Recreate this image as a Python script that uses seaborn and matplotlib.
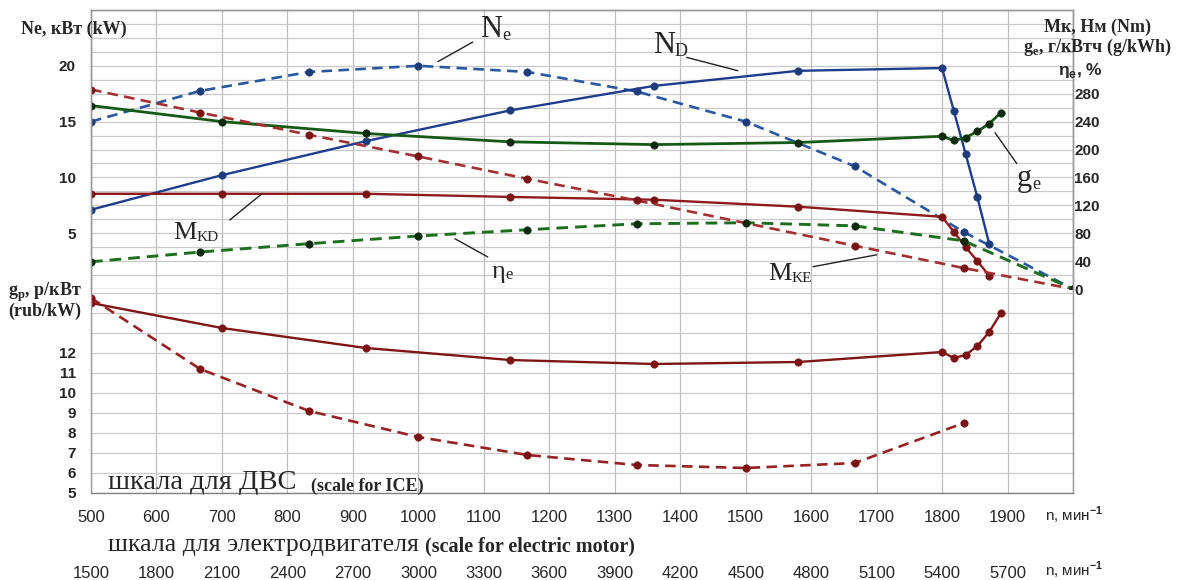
import numpy as np
import pandas as pd
import seaborn as sns
import matplotlib.pyplot as plt

# Data #########################################################################

# ICE speed points, n, min^-1 (solid curves)
n_ice = [500, 700, 920, 1140, 1360, 1580, 1800, 1818, 1836, 1854, 1872, 1890]
# electric motor speed points (motor scale is 3x the ICE scale), dashed curves
n_motor = [1500, 2000, 2500, 3000, 3500, 4000, 4500, 5000, 5500, 6000]
n_motor_mke = [1500, 2000, 2500, 3000, 3500, 4000, 5000, 5500, 6000]
n_motor_gp = [1500, 2000, 2500, 3000, 3500, 4000, 4500, 5000, 5500]

# upper panel, left scale (kW)
nd_kw = [7.1, 10.2, 13.25, 16.0, 18.2, 19.55, 19.8, 15.95, 12.1, 8.2, 4.05]
ne_kw = [15.0, 17.75, 19.45, 20.0, 19.45, 17.7, 15.0, 11.0, 5.1, 0.0]

# upper panel, right scale (Nm, g/kWh, %)
ge_gkwh = [263, 240, 223, 211, 207, 210, 219, 213, 217, 226, 237, 253]
mkd_nm = [136.5, 136.5, 136.5, 132, 128, 118, 103.5, 82, 60, 40, 19]
mke_nm = [286, 253, 221, 190, 158, 127, 62, 30, 0]
eta_pct = [39, 53, 65, 76, 85, 93.5, 95, 90.5, 69, 0]

# lower panel, rub/kW
gp_ice = [14.5, 13.25, 12.25, 11.65, 11.45, 11.55, 12.05, 11.75, 11.9, 12.35, 13.05, 14.0]
gp_motor = [14.75, 11.2, 9.1, 7.8, 6.9, 6.4, 6.25, 6.5, 8.5]

ice_ticks = list(range(500, 2000, 100))
motor_ticks = list(range(1500, 5800, 300))
right_ticks = list(range(0, 281, 40))
left_ticks = [5, 10, 15, 20]
gp_ticks = list(range(5, 13))

# Style ########################################################################

sns.set_style('white')
plt.rcParams['font.family'] = ['Liberation Sans', 'DejaVu Sans']
plt.rcParams['mathtext.fontset'] = 'custom'
plt.rcParams['mathtext.rm'] = 'Liberation Serif'
plt.rcParams['mathtext.bf'] = 'Liberation Serif:bold'
plt.rcParams['mathtext.sf'] = 'Liberation Sans:bold'

SERIF = 'Liberation Serif'
GRID = '#c9c9c9'
FRAME = '#9a9a9a'

W, H = 1179, 580
fig = plt.figure(figsize=(W / 100, H / 100), dpi=100)
x0, x1 = 91 / W, 1073 / W
ax = fig.add_axes([x0, 1 - 289 / H, x1 - x0, 279 / H])
axl = fig.add_axes([x0, 1 - 493 / H, x1 - x0, 204 / H], sharex=ax)
ax2 = ax.twinx()


def curve(axis, x, y, color, dashed=False, mcolor=None, lw=1.7):
    mcolor = mcolor or color
    sns.lineplot(x=x, y=y, ax=axis, color=color, linewidth=lw,
                 linestyle=(0, (4, 2.4)) if dashed else '-',
                 marker='o', markersize=5.3, markerfacecolor=mcolor,
                 markeredgecolor=mcolor, markeredgewidth=0.5)


n_e = np.array(n_motor) / 3
n_e_mke = np.array(n_motor_mke) / 3
n_e_gp = np.array(n_motor_gp) / 3

# upper panel
curve(ax, n_e, ne_kw, '#2a589f', dashed=True, mcolor='#1d3c7c', lw=1.9)
curve(ax, n_ice[:11], nd_kw, '#1f3d8c', mcolor='#1d3c7c')
curve(ax2, n_ice, ge_gkwh, '#145a14', mcolor='#0b2a0b', lw=2.0)
curve(ax2, n_ice[:11], mkd_nm, '#8e1b1b', mcolor='#7a1414')
curve(ax2, n_e_mke, mke_nm, '#a33030', dashed=True, mcolor='#7a1414', lw=1.9)
curve(ax2, n_e, eta_pct, '#1d6e1d', dashed=True, mcolor='#0b2a0b', lw=2.1)

# lower panel
curve(axl, n_ice, gp_ice, '#7e1616', mcolor='#7a1414')
curve(axl, n_e_gp, gp_motor, '#962222', dashed=True, mcolor='#7a1414', lw=1.9)

# Axes #########################################################################

ax.set_xlim(500, 2000)
ax.set_ylim(0, 25)
ax2.set_ylim(0, 400)
axl.set_ylim(5, 15.2)

ax.set_xticks(range(500, 2001, 100))
ax.set_yticks(left_ticks)
ax.set_yticks(np.arange(0, 25.01, 1.25), minor=True)
ax.grid(which='both', axis='y', color=GRID, lw=0.9)
ax.grid(which='major', axis='x', color='#bdbdbd', lw=0.9)
ax.tick_params(axis='x', labelbottom=False, length=0)
ax.tick_params(axis='y', which='both', length=0, pad=11, labelsize=11)
for t in ax.get_yticklabels():
    t.set_fontweight('bold')

ax2.set_yticks(right_ticks)
ax2.tick_params(axis='y', length=0, pad=1, labelsize=11)
for t in ax2.get_yticklabels():
    t.set_fontweight('bold')

axl.set_yticks(range(5, 16))
axl.set_yticklabels([str(v) if v in gp_ticks else '' for v in range(5, 16)])
axl.grid(axis='y', color=GRID, lw=0.9)
axl.grid(axis='x', color='#bdbdbd', lw=0.9)
axl.set_xticks(range(500, 2001, 100))
axl.set_xticklabels([str(v) if v in ice_ticks else '' for v in range(500, 2001, 100)])
axl.tick_params(axis='y', length=0, pad=11, labelsize=11)
axl.tick_params(axis='x', length=0, pad=12, labelsize=12)
for t in axl.get_yticklabels():
    t.set_fontweight('bold')

sec = axl.secondary_xaxis(-60 / 204, functions=(lambda v: v * 3, lambda v: v / 3))
sec.set_xticks(motor_ticks)
sec.tick_params(length=0, pad=9, labelsize=12)
sec.spines['bottom'].set_visible(False)

for a in (ax, ax2, axl):
    a.set_xlabel('')
    a.set_ylabel('')
    for s in a.spines.values():
        s.set_color(FRAME)
        s.set_linewidth(1.0)
ax.spines['bottom'].set_color(GRID)
ax2.spines['bottom'].set_visible(False)
axl.spines['top'].set_visible(False)
axl.spines['bottom'].set_color('#808080')

# Curve labels #################################################################


def tag(axis, x, y, big, small, size, ssize):
    t = axis.text(x, y, big, fontsize=size, family=SERIF, ha='left', va='baseline')
    axis.annotate(small, xy=(1, 0), xycoords=t, fontsize=ssize, family=SERIF,
                  ha='left', va='bottom')


def leader(axis, xa, ya, xb, yb):
    axis.annotate('', xy=(xb, yb), xytext=(xa, ya),
                  arrowprops=dict(arrowstyle='-', color='#222222', lw=1.0,
                                  shrinkA=0, shrinkB=0))


tag(ax2, 1094, 361, 'N', 'e', 22, 13)
leader(ax2, 1030, 326, 1083, 354)
tag(ax2, 1358, 339, 'N', 'D', 22, 13)
leader(ax2, 1410, 332, 1488, 313)
tag(ax2, 1914, 148, 'g', 'e', 22, 13)
leader(ax2, 1881, 224, 1914, 180)
tag(ax2, 625, 72, 'M', 'KD', 19, 11)
leader(ax2, 712, 99, 761, 136.5)
tag(ax2, 1112, 16, 'η', 'e', 19, 12)
leader(ax2, 1056, 72, 1106, 46)
tag(ax2, 1534, 13, 'M', 'KE', 19, 11)
leader(ax2, 1603, 32, 1700, 49)

# Axis titles ##################################################################


def ftext(px, py, s, **kw):
    return fig.text(px / W, 1 - py / H, s, **kw)


ftext(74, 29, 'Ne, кВт (kW)', family=SERIF, fontweight='bold', fontsize=13,
      ha='center', va='center')
ftext(1097, 27, 'Мк, Нм (Nm)', family=SERIF, fontweight='bold', fontsize=13,
      ha='center', va='center')
ftext(1097, 47, r'g$_\mathbf{e}$, г/кВтч (g/kWh)', family=SERIF, fontweight='bold',
      fontsize=13, ha='center', va='center')
ftext(1058, 70, r'η$_\mathsf{e}$, %', fontweight='bold', fontsize=12.5,
      ha='left', va='center')
ftext(8, 292, r'g$_\mathbf{p}$, р/кВт', family=SERIF, fontweight='bold', fontsize=13,
      ha='left', va='center')
ftext(8, 311, '(rub/kW)', family=SERIF, fontweight='bold', fontsize=13,
      ha='left', va='center')
ftext(1045, 515, r'n, мин$^{\mathsf{-1}}$', fontsize=11, ha='left', va='center')
ftext(1045, 570, r'n, мин$^{\mathsf{-1}}$', fontsize=11, ha='left', va='center')

t1 = ftext(108, 489, 'шкала для ДВС  ', family=SERIF, fontsize=20.5,
           ha='left', va='baseline')
t2 = ftext(108, 551, 'шкала для электродвигателя ', family=SERIF, fontsize=18.5,
           ha='left', va='baseline')
for t, s, fs in ((t1, '(scale for ICE)', 13), (t2, '(scale for electric motor)', 14.5)):
    fig.add_artist(plt.Annotation(s, xy=(1, 0), xycoords=t, family=SERIF,
                                  fontweight='bold', fontsize=fs,
                                  ha='left', va='bottom'))

fig.savefig('out.png', dpi=100)
